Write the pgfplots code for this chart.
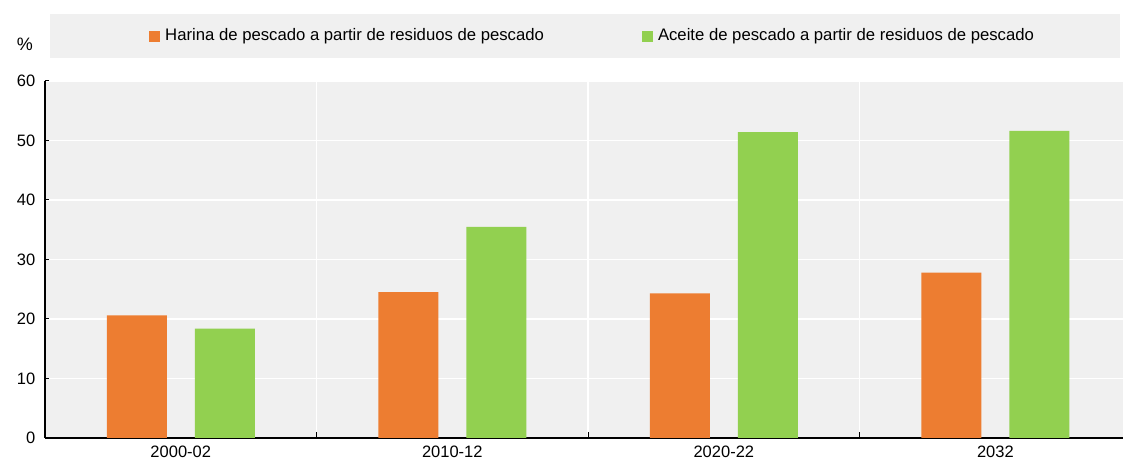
\documentclass[border=0pt]{standalone}
\usepackage{fontspec}
\setmainfont{Liberation Sans}
\usepackage{pgfplots}
\pgfplotsset{compat=1.18}
\definecolor{cor}{HTML}{ED7D31}
\definecolor{cgr}{HTML}{92D050}
\definecolor{bg}{HTML}{F0F0F0}
\begin{document}
\fontsize{16.5bp}{20bp}\selectfont
\begin{tikzpicture}[x=1bp,y=1bp]
\fill[bg] (5,380) rectangle (1075,424);
\node[font=\fontsize{18bp}{20bp}\selectfont] at (-20,394) {\%};
\begin{axis}[
 at={(0,0)}, anchor=south west,
 width=1078bp, height=357bp, scale only axis,
 xmin=-0.5, xmax=3.47, ymin=0, ymax=60,
 axis background/.style={fill=bg},
 axis x line*=bottom, axis y line*=left,
 axis line style={-, black, line width=1.2bp},
 xtick={0,1,2,3}, xticklabels={2000-02,2010-12,2020-22,2032},
 minor xtick={0.5,1.5,2.5},
 ytick={0,10,...,60},
 ymajorgrids, xminorgrids,
 major grid style={white, line width=1.5bp},
 minor grid style={white, line width=1.5bp},
 tick align=inside,
 major x tick style={draw=none},
 minor tick length=6bp, major tick length=4bp,
 tick style={black, line width=1bp},
 /pgf/number format/assume math mode=true,
 ticklabel style={font=\fontsize{16.5bp}{20bp}\selectfont},
 xticklabel style={yshift=-2bp},
 yticklabel style={xshift=-4bp},
 legend style={at={(0.508,1.126)}, anchor=center, draw=none, fill=none,
   font=\fontsize{16.7bp}{20bp}\selectfont,
   /tikz/every even column/.append style={column sep=96bp}},
 legend columns=2,
 legend image code/.code={\fill[#1] (0bp,-5.5bp) rectangle (11bp,5.5bp); \path (14bp,0bp);},
]
\addplot[ybar, fill=cor, draw=none, bar width=60bp, bar shift=-44bp]
  coordinates {(0,20.6) (1,24.5) (2,24.3) (3,27.8)};
\addlegendentry{Harina de pescado a partir de residuos de pescado}
\addplot[ybar, fill=cgr, draw=none, bar width=60bp, bar shift=44bp]
  coordinates {(0,18.4) (1,35.5) (2,51.4) (3,51.6)};
\addlegendentry{Aceite de pescado a partir de residuos de pescado}
\end{axis}
\pgfresetboundingbox
\path[use as bounding box] (-45,-25) rectangle (1080,438);
\end{tikzpicture}
\end{document}
